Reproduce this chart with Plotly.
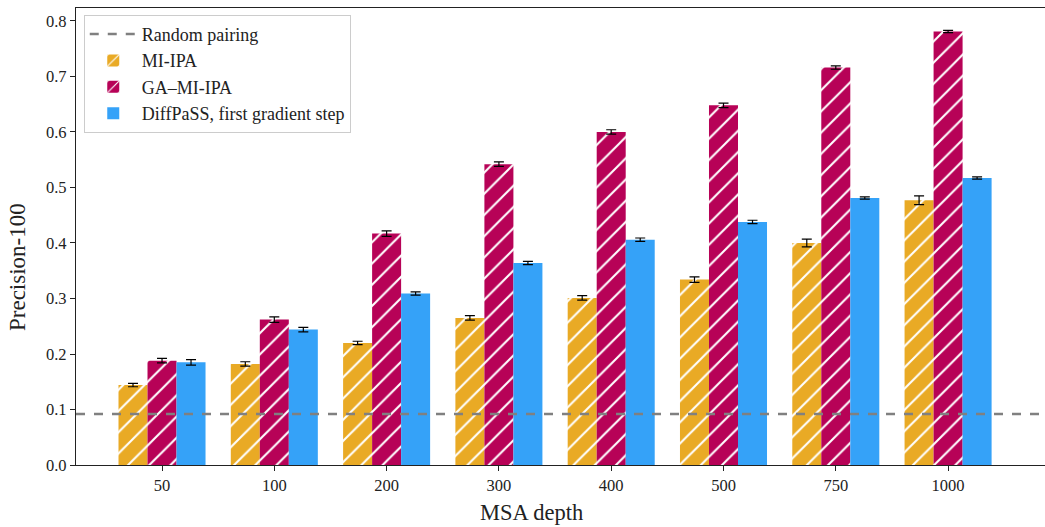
import plotly.graph_objects as go

depths = ["50", "100", "200", "300", "400", "500", "750", "1000"]
mi_ipa = [0.144, 0.182, 0.220, 0.265, 0.301, 0.334, 0.400, 0.477]
mi_ipa_err = [0.003, 0.004, 0.003, 0.004, 0.004, 0.005, 0.007, 0.008]
ga_mi_ipa = [0.188, 0.262, 0.417, 0.542, 0.600, 0.648, 0.716, 0.781]
ga_mi_ipa_err = [0.004, 0.005, 0.005, 0.004, 0.004, 0.004, 0.003, 0.002]
diffpass = [0.185, 0.244, 0.309, 0.364, 0.406, 0.438, 0.481, 0.517]
diffpass_err = [0.005, 0.004, 0.003, 0.003, 0.003, 0.003, 0.002, 0.002]
random_pairing = 0.092

ORANGE = "#E9AA25"
CRIMSON = "#B70257"
BLUE = "#35A2F8"
FONT = "Liberation Serif"
TXT = "#222222"

fig = go.Figure()

fig.add_trace(go.Scatter(
    x=[None], y=[None], mode="lines", name="Random pairing", legendgroup="a",
    line=dict(color="#808080", dash="dash", width=2.5),
))

def err(vals):
    return dict(type="data", array=vals, color="black", thickness=1.2, width=5)

def hatch(col):
    return dict(shape="/", fgcolor="white", fgopacity=1, bgcolor=col,
                size=15, solidity=0.14, fillmode="overlay")

fig.add_trace(go.Bar(
    x=depths, y=mi_ipa, name="MI-IPA", error_y=err(mi_ipa_err), legendgroup="b",
    marker=dict(color=ORANGE, line=dict(width=0), pattern=hatch(ORANGE)),
))
fig.add_trace(go.Bar(
    x=depths, y=ga_mi_ipa, name="GA\u2013MI-IPA", error_y=err(ga_mi_ipa_err),
    legendgroup="c",
    marker=dict(color=CRIMSON, line=dict(width=0), pattern=hatch(CRIMSON)),
))
fig.add_trace(go.Bar(
    x=depths, y=diffpass, name="DiffPaSS, first gradient step",
    error_y=err(diffpass_err), legendgroup="d",
    marker=dict(color=BLUE, line=dict(width=0)),
))

fig.add_hline(y=random_pairing, line=dict(color="#808080", dash="dash", width=2.5),
              layer="above")

fig.add_annotation(text="MSA depth", xref="paper", yref="paper",
                   x=(531 - 76) / 969, y=-0.105, xanchor="center", yanchor="middle",
                   showarrow=False, font=dict(family=FONT, size=22.5, color=TXT))
fig.add_annotation(text="Precision-100", xref="paper", yref="paper",
                   x=(17 - 76) / 969, y=(465 - 267) / 457, xanchor="center",
                   yanchor="middle", textangle=-90,
                   showarrow=False, font=dict(family=FONT, size=23, color=TXT))

fig.update_layout(
    width=1045, height=527,
    margin=dict(l=76, r=0, t=8, b=62),
    paper_bgcolor="white", plot_bgcolor="white",
    font=dict(family=FONT, size=16, color=TXT),
    barmode="group", bargap=0.225, bargroupgap=0,
    showlegend=True,
    legend=dict(
        x=0.008, y=0.985, xanchor="left", yanchor="top",
        bgcolor="rgba(255,255,255,0.9)", bordercolor="#CCCCCC", borderwidth=1,
        font=dict(family=FONT, size=18, color=TXT),
        tracegroupgap=0, itemwidth=47,
    ),
    xaxis=dict(
        type="category", range=[-0.766, 7.863],
        showline=True, linecolor=TXT, linewidth=1.2, mirror=True,
        ticks="outside", ticklen=5, tickcolor=TXT, showgrid=False,
        tickfont=dict(family=FONT, size=16.5),
    ),
    yaxis=dict(
        range=[0, 0.8234], tickvals=[0, 0.1, 0.2, 0.3, 0.4, 0.5, 0.6, 0.7, 0.8],
        tickformat=".1f",
        showline=True, linecolor=TXT, linewidth=1.2, mirror=False,
        ticks="outside", ticklen=5, tickcolor=TXT, showgrid=False,
        zeroline=False, tickfont=dict(family=FONT, size=16.5),
    ),
)

fig.write_html("out.html")
